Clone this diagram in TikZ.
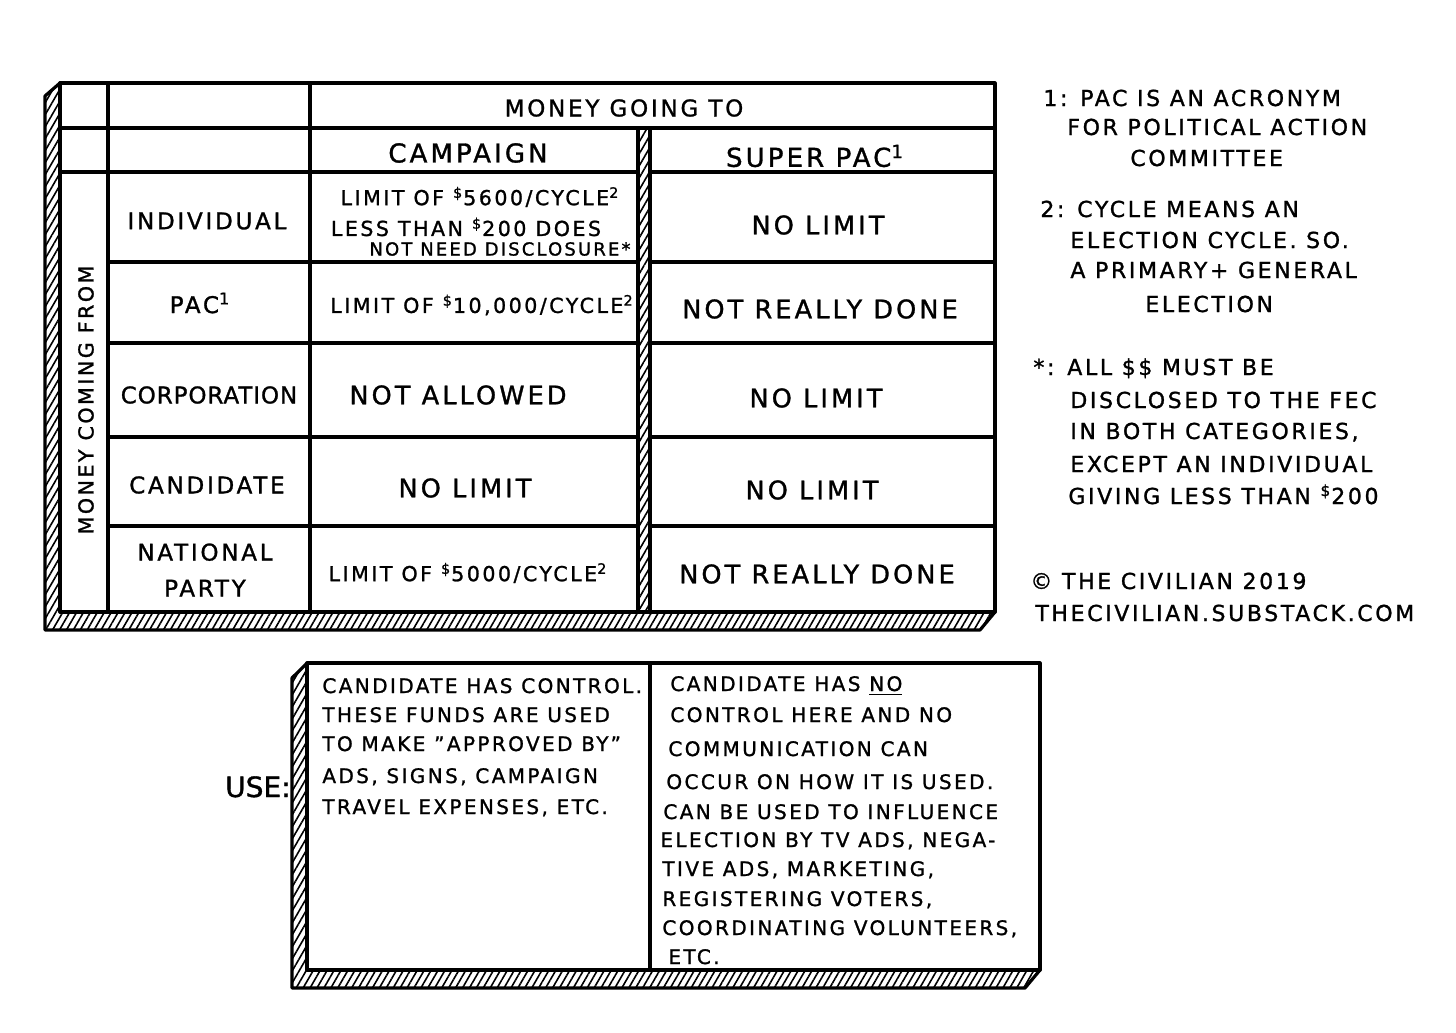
\documentclass[tikz,border=0pt]{standalone}
\usepackage{fontspec}
\setmainfont{DejaVu Sans}[LetterSpace=12,FakeBold=1.2]
\usetikzlibrary{patterns.meta}
\newcommand{\sdol}{\textsuperscript{\$}}
\newcommand{\myfn}[1]{\textsuperscript{#1}}
\begin{document}
\begin{tikzpicture}[x=0.5pt,y=-0.5pt,
  rule/.style={line width=1.6pt,line cap=round,line join=round},
  hatch/.style={rule,preaction={fill=white},pattern={Lines[angle=60,distance=3pt,line width=0.8pt]}},
  hdr/.style={inner sep=0pt,font=\fontsize{11.5}{14}\selectfont},
  colhead/.style={inner sep=0pt,font=\fontsize{13}{16}\selectfont},
  rowlab/.style={inner sep=0pt,font=\fontsize{11.5}{18}\selectfont,align=center},
  entry/.style={inner sep=0pt,font=\fontsize{12.8}{16}\selectfont},
  limit/.style={inner sep=0pt,font=\fontsize{10.3}{12}\selectfont},
  note/.style={inner sep=0pt,anchor=base west,font=\fontsize{11}{13}\selectfont},
  usetxt/.style={inner sep=0pt,anchor=base west,font=\fontsize{10}{12}\selectfont},
]
\fill[white] (0,0) rectangle (1456,1033);
\useasboundingbox (0,0) rectangle (1456,1033);

% ---------- main table ----------
\draw[hatch] (60,83) -- (45,96) -- (45,630) -- (980,630) -- (995,612) -- (60,612) -- cycle;
\draw[rule] (60,83) rectangle (995,612);
\draw[rule] (60,128) -- (995,128);
\draw[rule] (60,172) -- (995,172);
\foreach \yy in {262,343,437,526} \draw[rule] (108,\yy) -- (995,\yy);
\draw[rule] (108,83) -- (108,612);
\draw[rule] (310,83) -- (310,612);
\draw[hatch] (638,128) rectangle (650,612);

\node[hdr] (going) at (624,108) {MONEY GOING TO};
\node[colhead] (camp) at (468,153) {CAMPAIGN};
\node[colhead] (spac) at (815,156) {SUPER PAC\myfn{1}};
\node[limit,rotate=90] (coming) at (86,400) {MONEY COMING FROM};

\node[rowlab] (lind) at (207,221) {INDIVIDUAL};
\node[rowlab] (lpac) at (200,303) {PAC\myfn{1}};
\node[rowlab] (lcorp) at (209,395) {\addfontfeature{LetterSpace=4}CORPORATION};
\node[rowlab] (lcand) at (207,485) {CANDIDATE};
\node[rowlab] (lnat) at (205,570) {NATIONAL\\PARTY};

\node[limit] (c1a) at (480,197) {LIMIT OF \sdol5600/CYCLE\myfn{2}};
\node[limit] (c1b) at (466,227) {LESS THAN \sdol200 DOES};
\node[inner sep=0pt,font=\fontsize{9}{11}\selectfont] (c1c) at (500,249) {NOT NEED DISCLOSURE*};
\node[limit] (c2) at (482,305) {LIMIT OF \sdol10,000/CYCLE\myfn{2}};
\node[entry] (c3) at (458,395) {NOT ALLOWED};
\node[entry] (c4) at (465,488) {NO LIMIT};
\node[limit] (c5) at (468,573) {LIMIT OF \sdol5000/CYCLE\myfn{2}};

\node[entry] (s1) at (818,225) {NO LIMIT};
\node[entry] (s2) at (820,309) {NOT REALLY DONE};
\node[entry] (s3) at (816,398) {NO LIMIT};
\node[entry] (s4) at (812,490) {NO LIMIT};
\node[entry] (s5) at (817,574) {NOT REALLY DONE};

% ---------- notes ----------
\node[note] (n1a) at (1043,106) {1: PAC IS AN ACRONYM};
\node[note] (n1b) at (1067,135) {FOR POLITICAL ACTION};
\node[note] (n1c) at (1130,166) {COMMITTEE};
\node[note] (n2a) at (1040,217) {2: CYCLE MEANS AN};
\node[note] (n2b) at (1070,248) {ELECTION CYCLE. SO.};
\node[note] (n2c) at (1070,278) {A PRIMARY+ GENERAL};
\node[note] (n2d) at (1145,312) {ELECTION};
\node[note] (n3a) at (1033,375) {*: ALL \$\$ MUST BE};
\node[note] (n3b) at (1070,408) {DISCLOSED TO THE FEC};
\node[note] (n3c) at (1070,439) {IN BOTH CATEGORIES,};
\node[note] (n3d) at (1070,472) {EXCEPT AN INDIVIDUAL};
\node[note] (n3e) at (1068,504) {GIVING LESS THAN \sdol200};
\node[note] (cr1) at (1030,589) {© THE CIVILIAN 2019};
\node[note] (cr2) at (1035,621) {THECIVILIAN.SUBSTACK.COM};

% ---------- use box ----------
\draw[hatch] (307,663) -- (292,678) -- (292,988) -- (1025,988) -- (1040,970) -- (307,970) -- cycle;
\draw[rule] (307,663) rectangle (1040,970);
\draw[rule] (650,663) -- (650,970);
\node[inner sep=0pt,anchor=base east,font=\fontsize{14}{16}\selectfont\addfontfeature{LetterSpace=0}] (use) at (291,797) {USE:};

\node[usetxt] (u1) at (322,693) {CANDIDATE HAS CONTROL.};
\node[usetxt] (u2) at (322,722) {THESE FUNDS ARE USED};
\node[usetxt] (u3) at (322,751) {TO MAKE "APPROVED BY"};
\node[usetxt] (u4) at (322,783) {ADS, SIGNS, CAMPAIGN};
\node[usetxt] (u5) at (322,814) {TRAVEL EXPENSES, ETC.};

\node[usetxt] (v1) at (670,691) {CANDIDATE HAS \underline{NO}};
\node[usetxt] (v2) at (670,722) {CONTROL HERE AND NO};
\node[usetxt] (v3) at (668,756) {COMMUNICATION CAN};
\node[usetxt] (v4) at (666,789) {OCCUR ON HOW IT IS USED.};
\node[usetxt] (v5) at (663,819) {CAN BE USED TO INFLUENCE};
\node[usetxt] (v6) at (660,847) {ELECTION BY TV ADS, NEGA-};
\node[usetxt] (v7) at (662,876) {TIVE ADS, MARKETING,};
\node[usetxt] (v8) at (662,906) {REGISTERING VOTERS,};
\node[usetxt] (v9) at (662,935) {COORDINATING VOLUNTEERS,};
\node[usetxt] (v10) at (668,964) {ETC.};
\end{tikzpicture}
\end{document}
